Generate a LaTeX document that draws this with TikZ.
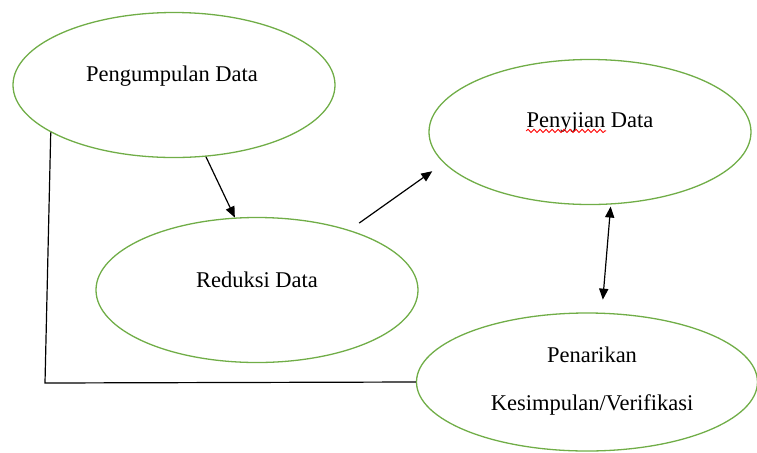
\documentclass[tikz,border=0pt]{standalone}
\usepackage{fontspec}
\setmainfont{Liberation Serif}
\usetikzlibrary{shapes,calc,arrows.meta,decorations.pathmorphing}
\definecolor{hijau}{RGB}{112,173,71}

\begin{document}
\begin{tikzpicture}[x=0.5pt, y=-0.5pt, >={Triangle[length=5.5pt,width=4.6pt]},
                every node/.append style={font=\fontsize{11.25}{13}\selectfont},
                tahap/.style={ellipse, draw=hijau, line width=0.65pt, inner sep=0pt,
                  minimum width=161pt, minimum height=72.5pt},
                teks/.style={anchor=base, inner sep=0pt},
                garis/.style={line width=0.6pt}]
                \useasboundingbox (0,0) rectangle (757,452);
                % tahap analisis
                \node [tahap] (pengumpulan) at (174,85) {};
                \node [tahap] (penyjian) at (590,132) {};
                \node [tahap] (reduksi) at (257,290) {};
                \node [tahap, minimum width=170.5pt, minimum height=69pt] (penarikan) at (587,382) {};
                \node [teks] (pengumpulan teks) at ($(pengumpulan)+(-2,-3.3)$) {Pengumpulan Data};
                \node [teks] (penyjian teks) at ($(penyjian)+(0,-4.3)$) {Penyjian Data};
                \node [teks] (reduksi teks) at ($(reduksi)+(0,-3)$) {Reduksi Data};
                \node [teks] (penarikan teks) at ($(penarikan)+(5,-20)$) {Penarikan};
                \node [teks] (kesimpulan teks) at ($(penarikan)+(5,28)$) {Kesimpulan/Verifikasi};
                \draw [red, line width=0.45pt, decorate,
                  decoration={snake, amplitude=0.8pt, segment length=3pt}]
                  ([yshift=-1.6pt]penyjian teks.base west) -- +(80,0);
                % alur
                \begin{scope}[garis]
                \draw [->] (pengumpulan.-66) -- (reduksi.107);
                \draw [->, shorten <=6pt, shorten >=7pt] (reduksi.33) -- (penyjian.192);
                \draw [<->, shorten <=1pt, shorten >=6.5pt] (penyjian.-74) -- (penarikan.78);
                \coordinate (sudut) at (45,383);
                \draw (pengumpulan.201) -- (sudut) -- (penarikan.west);
                \end{scope}
\end{tikzpicture}
\end{document}
